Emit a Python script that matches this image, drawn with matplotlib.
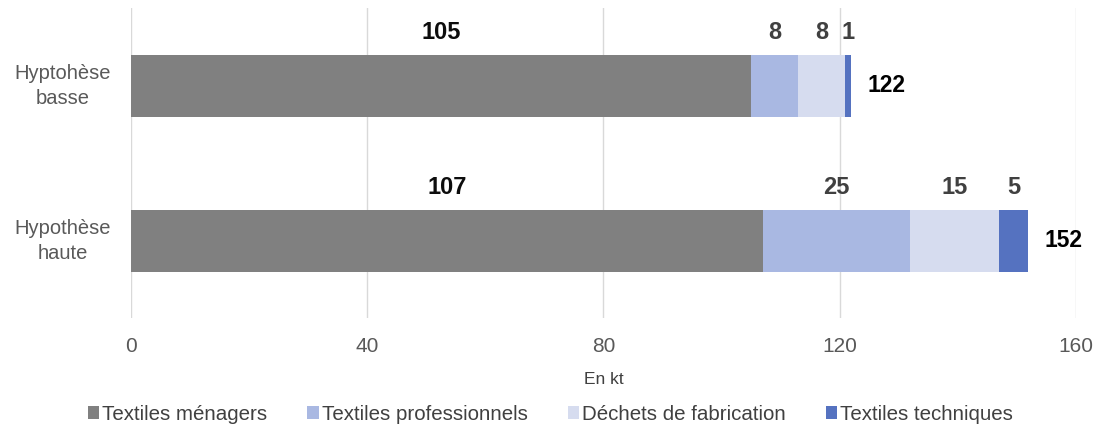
import numpy
from matplotlib import pyplot

pyplot.rcParams["font.family"] = ["Liberation Sans", "DejaVu Sans"]

categories = ["Hyptohèse\nbasse", "Hypothèse\nhaute"]
series = ["Textiles ménagers", "Textiles professionnels",
          "Déchets de fabrication", "Textiles techniques"]
menagers = [105, 107]
professionnels = [8, 25]
fabrication = [8, 15]
techniques = [1, 5]
colors = ["#808080", "#A9B8E2", "#D6DCEF", "#5572C0"]
label_colors = ["#0D0D0D", "#404040", "#404040", "#404040"]
xticks = [0, 40, 80, 120, 160]

values = numpy.asarray([menagers, professionnels, fabrication, techniques])
totals = values.sum(axis=0)

fig = pyplot.figure(figsize=(11.01, 4.28), dpi=100)
ax = fig.add_axes([0.119, 0.257, 0.858, 0.724])

ypos = numpy.arange(len(categories))
left = numpy.zeros(len(categories))
for name, vals, color, lc in zip(series, values, colors, label_colors):
    ax.barh(ypos, vals, left=left, height=0.4, color=color, label=name,
            zorder=2)
    for y, l, v in zip(ypos, left, vals):
        ax.text(l + v / 2, y - 0.27, str(v), ha="center", va="bottom",
                fontsize=17, fontweight="bold", color=lc)
    left = left + vals

for y, t in zip(ypos, totals):
    ax.text(t + 2.8, y, str(t), ha="left", va="center", fontsize=16.5,
            fontweight="bold", color="black")

ax.set_xlim(0, 160)
ax.set_ylim(1.5, -0.5)
ax.tick_params(axis="x", labelsize=15, labelcolor="#595959", length=0, pad=14)
ax.set_xticks(xticks)
ax.set_yticks([])
# category labels, centred lines
for y, cat in zip(ypos, categories):
    ax.text(-0.0725, y, cat, transform=ax.get_yaxis_transform(),
            ha="center", va="center", multialignment="center",
            linespacing=1.4, fontsize=14.5, color="#595959")
ax.grid(axis="x", color="#D9D9D9", linewidth=1, zorder=0)
for s in ax.spines.values():
    s.set_visible(False)
ax.set_xlabel("En kt", fontsize=12.5, color="#404040", labelpad=11)

handles, labels = ax.get_legend_handles_labels()
fig.legend(handles, labels, loc="lower center", ncol=4, frameon=False,
           fontsize=14.8, labelcolor="#404040", handlelength=0.55,
           handleheight=0.55, handletextpad=0.15, columnspacing=1.95,
           bbox_to_anchor=(0.5, -0.033))

fig.savefig("out.png", dpi=100)
